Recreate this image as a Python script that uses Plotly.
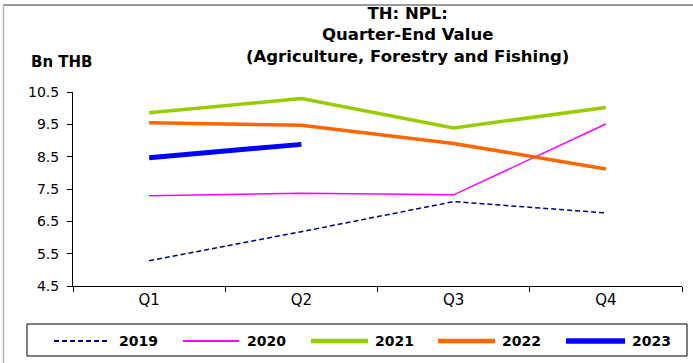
import plotly.graph_objects as go

quarters = ["Q1", "Q2", "Q3", "Q4"]
y2019 = [5.28, 6.18, 7.11, 6.76]
y2020 = [7.29, 7.37, 7.32, 9.51]
y2021 = [9.86, 10.30, 9.39, 10.02]
y2022 = [9.55, 9.47, 8.91, 8.12]
y2023 = [8.47, 8.88]
yticks = [4.5, 5.5, 6.5, 7.5, 8.5, 9.5, 10.5]
names = ["2019", "2020", "2021", "2022", "2023"]

W, H = 693, 363
L, R, T, B = 73, 11, 92, 77
pw, ph = W - L - R, H - T - B

def px(x):
    return (x - L) / pw

def py(y):
    return (H - B - y) / ph

FONT = "DejaVu Sans, Liberation Sans, Arial, sans-serif"

styles = [
    dict(color="#000080", width=1.5, dash="5px,3px"),
    dict(color="#FF00FF", width=1.5),
    dict(color="#99CC00", width=3.5),
    dict(color="#FF6600", width=3.5),
    dict(color="#0000FF", width=5),
]
leg_widths = [1.8, 2, 4.5, 4.5, 5.5]
data = [y2019, y2020, y2021, y2022, y2023]

fig = go.Figure()
for name, vals, line in zip(names, data, styles):
    fig.add_trace(go.Scatter(x=quarters[:len(vals)], y=vals, mode="lines",
                             name=name, line=line, showlegend=False, hoverinfo="skip"))

# manual legend (layout only)
leg_line_x = [(54, 109), (183, 239), (311, 368), (438, 495), (566, 625)]
leg_text_x = [117, 245, 373, 500, 630]
leg_y = 341
shapes = [
    dict(type="rect", xref="paper", yref="paper", x0=px(27), x1=px(687), y0=py(324), y1=py(356),
         line=dict(color="black", width=1), fillcolor="rgba(0,0,0,0)"),
    dict(type="line", xref="paper", yref="paper", x0=px(3), x1=px(693), y0=py(5), y1=py(5),
         line=dict(color="#7a7a7a", width=1.5)),
    dict(type="line", xref="paper", yref="paper", x0=px(3.5), x1=px(3.5), y0=py(5), y1=py(363),
         line=dict(color="#b4b4b4", width=1.5)),
]
annotations = [
    dict(text="<b>TH: NPL:<br>Quarter-End Value<br>(Agriculture, Forestry and Fishing)</b>",
         xref="paper", yref="paper", x=px(407), y=py(35.5), xanchor="center", yanchor="middle",
         showarrow=False, font=dict(family=FONT, size=16.5, color="black"), align="center"),
    dict(text="<b>Bn THB</b>", xref="paper", yref="paper", x=px(29), y=py(62),
         xanchor="left", yanchor="middle", showarrow=False,
         font=dict(family=FONT, size=15, color="black")),
]
for (x0, x1), tx, name, st, lw in zip(leg_line_x, leg_text_x, names, styles, leg_widths):
    st = dict(st, width=lw)
    shapes.append(dict(type="line", xref="paper", yref="paper", x0=px(x0), x1=px(x1),
                       y0=py(leg_y), y1=py(leg_y), line=st))
    annotations.append(dict(text=f"<b>{name}</b>", xref="paper", yref="paper", x=px(tx), y=py(leg_y),
                            xanchor="left", yanchor="middle", showarrow=False,
                            font=dict(family=FONT, size=14, color="black")))

fig.update_layout(
    width=W, height=H,
    margin=dict(l=L, r=R, t=T, b=B, autoexpand=False),
    paper_bgcolor="white", plot_bgcolor="white",
    font=dict(family=FONT, size=14, color="black"),
    showlegend=False,
    hovermode=False,
    xaxis=dict(type="category", categoryorder="array", categoryarray=quarters,
               range=[-0.5, 3.5], showline=True, linecolor="black", linewidth=1,
               ticks="outside", ticklen=5, tickcolor="black", tickson="boundaries",
               showgrid=False, zeroline=False, tickfont=dict(size=15)),
    yaxis=dict(range=[4.5, 10.5], tickvals=yticks, ticktext=[f"{v:.1f}" for v in yticks],
               showline=True, linecolor="black", linewidth=1,
               ticks="outside", ticklen=5, tickcolor="black", ticklabelstandoff=5,
               showgrid=False, zeroline=False, tickfont=dict(size=14)),
    annotations=annotations,
    shapes=shapes,
)

fig.write_html("out.html", config={"displayModeBar": False, "staticPlot": True},
               post_script="document.body.style.margin='0';document.body.style.overflow='hidden';")
